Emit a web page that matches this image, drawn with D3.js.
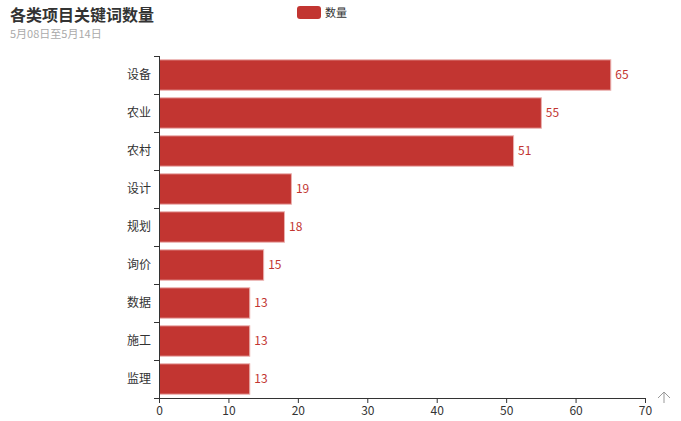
<!DOCTYPE html>
<html>
<head>
<meta charset="utf-8">
<script src="https://cdn.jsdelivr.net/npm/d3@7"></script>
<style>
  body { margin: 0; background: #fff; }
  text { font-family: "Noto Sans CJK SC", "Noto Sans", sans-serif; }
</style>
</head>
<body>
<div id="chart"></div>
<script>
// categories from top to bottom
var categories = ["设备", "农业", "农村", "设计", "规划", "询价", "数据", "施工", "监理"];
var counts = [65, 55, 51, 19, 18, 15, 13, 13, 13];
var xTicks = [0, 10, 20, 30, 40, 50, 60, 70];

var titleText = "各类项目关键词数量";
var subText = "5月08日至5月14日";
var seriesName = "数量";
var barColor = "#c23531";

var width = 681, height = 421;
var margin = {top: 56, right: 36, bottom: 23, left: 159};
var plotW = width - margin.left - margin.right,
    plotH = height - margin.top - margin.bottom;

var svg = d3.select("#chart").append("svg")
  .attr("width", width)
  .attr("height", height);

// title
svg.append("text")
  .attr("x", 10).attr("y", 21)
  .attr("font-size", 16).attr("font-weight", "bold")
  .attr("fill", "#333")
  .text(titleText);
svg.append("text")
  .attr("x", 10).attr("y", 38)
  .attr("font-size", 11)
  .attr("fill", "#aaa")
  .text(subText);

// legend
svg.append("rect")
  .attr("x", 297).attr("y", 6)
  .attr("width", 24).attr("height", 13)
  .attr("rx", 3)
  .attr("fill", barColor);
svg.append("text")
  .attr("x", 325).attr("y", 16.5)
  .attr("font-size", 11)
  .attr("fill", "#333")
  .text(seriesName);

var g = svg.append("g")
  .attr("transform", "translate(" + margin.left + "," + margin.top + ")");

var x = d3.scaleLinear().domain([0, 70]).range([0, plotW]);
var y = d3.scaleBand().domain(categories).range([0, plotH])
  .paddingInner(0.2).paddingOuter(0.1);

var data = categories.map(function(c, i) { return {name: c, value: counts[i]}; });

// bars
g.selectAll(".bar")
  .data(data)
  .enter().append("rect")
  .attr("class", "bar")
  .attr("x", 0.5)
  .attr("y", function(d) { return y(d.name); })
  .attr("width", function(d) { return x(d.value); })
  .attr("height", y.bandwidth())
  .attr("fill", barColor)
  .attr("stroke", "#eab0ae")
  .attr("stroke-width", 1);

// value labels
g.selectAll(".lbl")
  .data(data)
  .enter().append("text")
  .attr("class", "lbl")
  .attr("x", function(d) { return x(d.value) + 5; })
  .attr("y", function(d) { return y(d.name) + y.bandwidth() / 2; })
  .attr("dy", "0.35em")
  .attr("font-size", 12)
  .attr("fill", barColor)
  .text(function(d) { return d.value; });

// x axis
var xAxis = g.append("g")
  .attr("transform", "translate(0," + plotH + ")")
  .call(d3.axisBottom(x).tickValues(xTicks).tickSize(5).tickPadding(3).tickSizeOuter(0));
xAxis.select(".domain").attr("stroke", "#333");
xAxis.selectAll(".tick line").attr("stroke", "#333");
xAxis.selectAll("text").attr("font-size", 12).attr("fill", "#333")
  .attr("font-family", "\"Noto Sans CJK SC\", sans-serif");

// y axis: ticks between categories, like echarts
var yAxis = g.append("g");
yAxis.append("line")
  .attr("x1", 0.5).attr("x2", 0.5)
  .attr("y1", 0).attr("y2", plotH)
  .attr("stroke", "#333");
var half = (y.step() - y.bandwidth()) / 2;
var bounds = categories.map(function(c) { return y(c) - half; });
bounds.push(plotH);
yAxis.selectAll(".ytick")
  .data(bounds)
  .enter().append("line")
  .attr("x1", -5).attr("x2", 0.5)
  .attr("y1", function(d) { return Math.round(d) + 0.5; })
  .attr("y2", function(d) { return Math.round(d) + 0.5; })
  .attr("stroke", "#333");
yAxis.selectAll(".ylbl")
  .data(categories)
  .enter().append("text")
  .attr("x", -8)
  .attr("y", function(d) { return y(d) + y.bandwidth() / 2; })
  .attr("dy", "0.35em")
  .attr("text-anchor", "end")
  .attr("font-size", 12)
  .attr("fill", "#333")
  .text(function(d) { return d; });

// small arrow icon at bottom right
svg.append("path")
  .attr("d", "M658,398 L664,392 L670,398 M664,392 L664,403")
  .attr("fill", "none")
  .attr("stroke", "#999")
  .attr("stroke-width", 1);
</script>
</body>
</html>
